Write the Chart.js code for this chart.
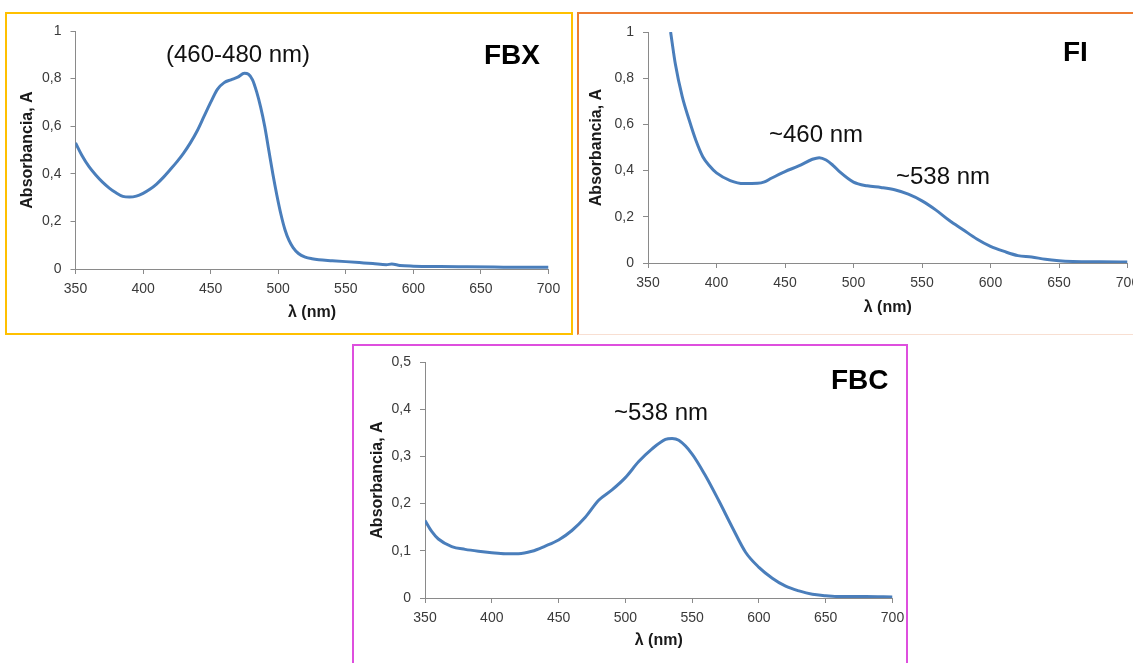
<!DOCTYPE html>
<html>
<head>
<meta charset="utf-8">
<script src="https://cdn.jsdelivr.net/npm/chart.js@4/dist/chart.umd.min.js"></script>
<style>
  html, body { margin: 0; padding: 0; background: #ffffff; }
  body { width: 1133px; height: 663px; position: relative; overflow: hidden; font-family: "Liberation Sans", Arial, sans-serif; }
  canvas { position: absolute; left: 0; top: 0; }
  .frame { position: absolute; box-sizing: border-box; }
  .note { position: absolute; font-family: "Liberation Sans", Arial, sans-serif; font-size: 24px; line-height: 24px; color: #111; white-space: nowrap; }
  .tag { position: absolute; font-family: "Liberation Sans", Arial, sans-serif; font-size: 28px; line-height: 28px; font-weight: bold; color: #000; white-space: nowrap; }
</style>
</head>
<body>
<div class="frame" style="left:5px;top:12px;width:568px;height:323px;border:2px solid #FFC000;"></div>
<div class="frame" style="left:577px;top:12px;width:600px;height:323px;border-left:2px solid #ED7D31;border-top:2px solid #ED7D31;border-bottom:1px solid #F8DFD2;"></div>
<div class="frame" style="left:352px;top:344px;width:556px;height:340px;border:2px solid #DE4FDE;"></div>

<canvas id="cFBX" width="1133" height="663"></canvas>
<canvas id="cFI" width="1133" height="663"></canvas>
<canvas id="cFBC" width="1133" height="663"></canvas>

<div class="note" style="left:166px;top:42px;">(460-480 nm)</div>
<div class="tag" style="left:484px;top:41px;">FBX</div>
<div class="note" style="left:769px;top:122px;">~460 nm</div>
<div class="note" style="left:896px;top:164px;">~538 nm</div>
<div class="tag" style="left:1063px;top:38px;">FI</div>
<div class="note" style="left:614px;top:400px;">~538 nm</div>
<div class="tag" style="left:831px;top:366px;">FBC</div>

<script>
// ---------------- DATA ----------------
const xTickValues = [350, 400, 450, 500, 550, 600, 650, 700];
const yTitle = "Absorbancia, A";
const xTitle = "λ (nm)";

const wavelengthFBX = [350,355,360,365,370,375,380,385,390,395,400,405,410,415,420,425,430,435,440,445,450,455,460,465,470,475,478,481,484,487,490,493,496,499,502,505,508,511,515,520,525,530,540,550,560,570,580,584,590,600,620,640,660,680,700];
const absorbanceFBX = [0.53,0.475,0.43,0.395,0.365,0.34,0.32,0.305,0.302,0.306,0.318,0.335,0.357,0.385,0.417,0.45,0.487,0.53,0.58,0.64,0.70,0.755,0.783,0.795,0.806,0.822,0.818,0.795,0.745,0.68,0.60,0.50,0.40,0.31,0.23,0.165,0.12,0.09,0.065,0.05,0.043,0.039,0.035,0.031,0.027,0.023,0.018,0.021,0.015,0.012,0.01,0.009,0.008,0.007,0.007];

const wavelengthFI = [366.5,370,375,380,385,390,395,400,410,420,430,435,440,450,460,470,475,480,485,490,500,510,520,530,540,550,560,570,580,590,600,610,620,630,640,650,660,680,700];
const absorbanceFI = [1.0,0.86,0.72,0.62,0.53,0.46,0.42,0.39,0.357,0.344,0.345,0.351,0.367,0.396,0.42,0.449,0.456,0.446,0.423,0.394,0.35,0.334,0.327,0.317,0.298,0.269,0.23,0.184,0.144,0.104,0.072,0.05,0.032,0.026,0.016,0.01,0.007,0.005,0.004];

const wavelengthFBC = [350,355,360,370,380,390,400,410,420,430,440,450,460,470,480,490,500,510,520,530,535,540,550,560,570,580,590,600,610,620,630,640,650,660,680,700];
const absorbanceFBC = [0.164,0.141,0.125,0.109,0.103,0.099,0.096,0.094,0.094,0.099,0.11,0.123,0.143,0.171,0.207,0.229,0.255,0.289,0.316,0.336,0.338,0.334,0.305,0.259,0.206,0.15,0.097,0.065,0.042,0.025,0.015,0.008,0.005,0.003,0.003,0.002];

// ---------------- CHARTS ----------------
const W = 1133, H = 663;
const TITLE_SIZE = 16, TITLE_LH = TITLE_SIZE * 1.2;

function fmt(v) {
  const r = Math.round(v * 10) / 10;
  return String(r).replace('.', ',');
}

function makeChart(id, wl, ab, g) {
  const padLeft = g.yTitleX - TITLE_LH / 2;
  const yWidth = g.plotLeft - padLeft;
  const xHeight = g.xTitleY + TITLE_LH / 2 - g.plotBottom;
  const padBottom = H - g.plotBottom - xHeight;
  const points = wl.map((x, i) => ({ x: x, y: ab[i] }));
  const axisColor = '#8a8a8a';
  const tickFont = { family: "'Liberation Sans', Arial, sans-serif", size: 14 };
  const titleFont = { family: "'Liberation Sans', Arial, sans-serif", size: TITLE_SIZE, weight: 'bold' };
  return new Chart(document.getElementById(id), {
    type: 'line',
    data: {
      datasets: [{
        data: points,
        borderColor: '#4A7EBB',
        borderWidth: 3,
        pointRadius: 0,
        fill: false,
        cubicInterpolationMode: 'monotone'
      }]
    },
    options: {
      responsive: false,
      animation: false,
      devicePixelRatio: 1,
      events: [],
      layout: { padding: { left: padLeft, top: g.plotTop, right: W - g.plotRight, bottom: padBottom } },
      plugins: { legend: { display: false }, tooltip: { enabled: false } },
      scales: {
        x: {
          type: 'linear',
          min: 350, max: 700,
          afterBuildTicks: s => { s.ticks = xTickValues.map(v => ({ value: v })); },
          afterFit: s => { s.height = xHeight; s.paddingLeft = 0; s.paddingRight = 0; },
          grid: { drawOnChartArea: false, drawTicks: true, tickLength: 5, color: axisColor },
          border: { display: true, color: axisColor, width: 1 },
          ticks: { font: tickFont, color: '#3a3a3a', padding: 7, maxRotation: 0, autoSkip: false },
          title: { display: true, text: xTitle, font: titleFont, color: '#1a1a1a', padding: 0 }
        },
        y: {
          type: 'linear',
          min: 0, max: g.yMax,
          ticks: { stepSize: g.yStep, font: tickFont, color: '#3a3a3a', padding: 9, callback: v => fmt(v) },
          afterFit: s => { s.width = yWidth; s.paddingTop = 0; s.paddingBottom = 0; },
          grid: { drawOnChartArea: false, drawTicks: true, tickLength: 5, color: axisColor },
          border: { display: true, color: axisColor, width: 1 },
          title: { display: true, text: yTitle, font: titleFont, color: '#1a1a1a', padding: 0 }
        }
      }
    }
  });
}

makeChart('cFBX', wavelengthFBX, absorbanceFBX, { plotLeft: 75.5, plotRight: 548.5, plotTop: 31, plotBottom: 269, yTitleX: 28, xTitleY: 313, yMax: 1, yStep: 0.2 });
makeChart('cFI', wavelengthFI, absorbanceFI, { plotLeft: 648, plotRight: 1127.5, plotTop: 32, plotBottom: 263, yTitleX: 597, xTitleY: 308, yMax: 1, yStep: 0.2 });
makeChart('cFBC', wavelengthFBC, absorbanceFBC, { plotLeft: 425, plotRight: 892.5, plotTop: 362, plotBottom: 598, yTitleX: 378, xTitleY: 641, yMax: 0.5, yStep: 0.1 });
</script>
</body>
</html>
